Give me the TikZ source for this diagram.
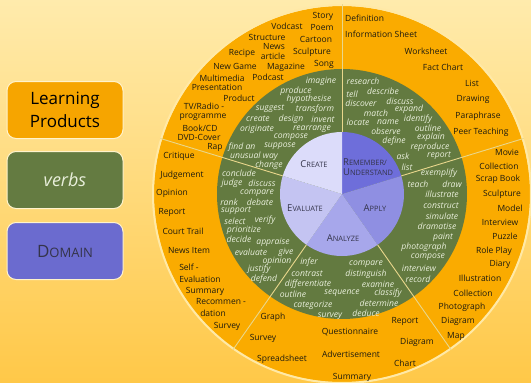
\documentclass[tikz,border=0pt]{standalone}
\usepackage{fontspec}
\setmainfont{Open Sans}

\definecolor{bgtop}{HTML}{FFEBAC}
\definecolor{bgbot}{HTML}{FFC848}
\definecolor{ringorange}{HTML}{FAAB00}
\definecolor{ringgreen}{HTML}{637A40}
\definecolor{halo}{HTML}{FFE9A6}
\definecolor{divline}{HTML}{E9D78C}
\definecolor{prodtext}{HTML}{1C1A10}
\definecolor{verbtext}{HTML}{E8EEDA}
\definecolor{domaintext}{HTML}{34344A}
\definecolor{cremember}{HTML}{6E6EDA}
\definecolor{capply}{HTML}{8F8FE2}
\definecolor{canalyze}{HTML}{A7A7EB}
\definecolor{cevaluate}{HTML}{C4C4F2}
\definecolor{ccreate}{HTML}{DCDCFA}
\definecolor{boxorange}{HTML}{F6A500}
\definecolor{boxgreen}{HTML}{647B41}
\definecolor{boxpurple}{HTML}{6B6BCF}
\definecolor{boxedge}{HTML}{FFF3CC}

\newcommand\smallcap[2]{{\fontsize{9.5}{11}\selectfont #1}{\fontsize{7.4}{11}\selectfont #2}}

\begin{document}
\begin{tikzpicture}[x=1pt, y=-1pt,
    prod/.style={text=prodtext, font=\fontsize{8.5}{10}\selectfont, inner sep=0pt},
    verb/.style={text=verbtext, font=\fontsize{8.6}{10}\selectfont\itshape, inner sep=0pt},
    domainlabel/.style={text=domaintext, inner sep=0pt, align=left},
    legendbox/.style={draw=boxedge, line width=1pt, rounded corners=9pt, minimum width=116pt, minimum height=57pt, align=center},
    divider/.style={draw=divline, line width=0.9pt}]

    % background and frame
    \fill[top color=bgtop, bottom color=bgbot] (0,0) rectangle (531,383);
    \useasboundingbox (0,0) rectangle (531,383);
    \clip (0,0) rectangle (531,383);

    % legend
    \node[legendbox, fill=boxorange, text=black, font=\fontsize{17}{23}\selectfont] (learning) at (65,110) {Learning\\Products};
    \node[legendbox, fill=boxgreen, text=verbtext, font=\fontsize{18}{20}\selectfont\itshape] (verbs) at (65,180) {verbs};
    \node[legendbox, fill=boxpurple, text=domaintext] (domainbox) at (65,251) {{\fontsize{17}{20}\selectfont D}{\fontsize{13}{20}\selectfont OMAIN}};

    % wheel
    \coordinate (c) at (342,194);
    \fill[ringorange] (c) circle[radius=188pt];
    \draw[halo, line width=2pt] (c) circle[radius=189pt];
    \fill[ringgreen] (c) circle[radius=125pt];
    \fill[cremember] (c) -- ++(90:62pt) arc[start angle=90, end angle=17, radius=62pt] -- cycle;
    \fill[capply] (c) -- ++(17:62pt) arc[start angle=17, end angle=-55, radius=62pt] -- cycle;
    \fill[canalyze] (c) -- ++(-55:62pt) arc[start angle=-55, end angle=-125, radius=62pt] -- cycle;
    \fill[cevaluate] (c) -- ++(-125:62pt) arc[start angle=-125, end angle=-197, radius=62pt] -- cycle;
    \fill[ccreate] (c) -- ++(163:62pt) arc[start angle=163, end angle=90, radius=62pt] -- cycle;

    \draw[divider] ([shift={(90:62pt)}]c) -- ([shift={(90:190pt)}]c);
    \draw[divider] ([shift={(17:62pt)}]c) -- ([shift={(17:190pt)}]c);
    \draw[divider] ([shift={(-55:62pt)}]c) -- ([shift={(-55:190pt)}]c);
    \draw[divider] ([shift={(-125:62pt)}]c) -- ([shift={(-125:190pt)}]c);
    \draw[divider] ([shift={(163:62pt)}]c) -- ([shift={(163:190pt)}]c);

    % domains
    \node[domainlabel] (dcreate) at (314,164) {\smallcap{C}{REATE}};
    \node[domainlabel, anchor=west] (dremember) at (343,167) {\smallcap{R}{EMEMBER/}\\[-1.5pt]\smallcap{U}{NDERSTAND}};
    \node[domainlabel] (devaluate) at (305,208) {\smallcap{E}{VALUATE}};
    \node[domainlabel] (dapply) at (375,208) {\smallcap{A}{PPLY}};
    \node[domainlabel] (danalyze) at (343,238) {\smallcap{A}{NALYZE}};

    % products: create
    \node[prod] (story) at (323,16) {Story};
    \node[prod] (vodcast) at (287,26) {Vodcast};
    \node[prod] (poem) at (322,28) {Poem};
    \node[prod] (structure) at (267,37) {Structure};
    \node[prod] (cartoon) at (316,39) {Cartoon};
    \node[prod] (news) at (274,47) {News};
    \node[prod] (article) at (273,56) {article};
    \node[prod] (recipe) at (242,53) {Recipe};
    \node[prod] (sculptA) at (312,52) {Sculpture};
    \node[prod] (newgame) at (235,66) {New Game};
    \node[prod] (magazine) at (286,67) {Magazine};
    \node[prod] (song) at (324,64) {Song};
    \node[prod] (multimedia) at (222,78) {Multimedia};
    \node[prod] (podcast) at (268,77) {Podcast};
    \node[prod] (presentation) at (217,87) {Presentation};
    \node[prod] (product) at (239,98) {Product};
    \node[prod] (tvradio) at (204,106) {TV/Radio -};
    \node[prod] (programme) at (203,117) {programme};
    \node[prod] (bookcd) at (200,128) {Book/CD};
    \node[prod] (dvdcover) at (199,137) {DVD-Cover};
    \node[prod] (rap) at (215,147) {Rap};

    % products: remember
    \node[prod, anchor=west] (definition) at (345,18) {Definition};
    \node[prod, anchor=west] (infosheet) at (345,34) {Information Sheet};
    \node[prod] (worksheet) at (426,51) {Worksheet};
    \node[prod] (factchart) at (443,67) {Fact Chart};
    \node[prod] (list) at (472,83) {List};
    \node[prod] (drawing) at (473,99) {Drawing};
    \node[prod] (paraphrase) at (478,116) {Paraphrase};
    \node[prod] (peerteach) at (481,132) {Peer Teaching};

    % products: apply
    \node[prod] (movie) at (507,152) {Movie};
    \node[prod] (collA) at (499,166) {Collection};
    \node[prod] (scrapbook) at (498,179) {Scrap Book};
    \node[prod] (sculptB) at (502,194) {Sculpture};
    \node[prod] (model) at (510,208) {Model};
    \node[prod] (interviewP) at (500,222) {Interview};
    \node[prod] (puzzle) at (505,236) {Puzzle};
    \node[prod] (roleplay) at (494,251) {Role Play};
    \node[prod] (diary) at (500,264) {Diary};
    \node[prod] (illustration) at (480,278) {Illustration};
    \node[prod] (collB) at (473,293) {Collection};
    \node[prod] (photographP) at (462,307) {Photograph};
    \node[prod] (diagramA) at (458,321) {Diagram};
    \node[prod] (map) at (456,336) {Map};

    % products: analyze
    \node[prod] (graph) at (273,317) {Graph};
    \node[prod] (surveyA) at (263,338) {Survey};
    \node[prod] (questionnaire) at (350,332) {Questionnaire};
    \node[prod] (reportA) at (405,321) {Report};
    \node[prod] (diagramB) at (417,342) {Diagram};
    \node[prod] (spreadsheet) at (282,359) {Spreadsheet};
    \node[prod] (advert) at (351,354) {Advertisement};
    \node[prod] (chart) at (405,363) {Chart};
    \node[prod] (summaryA) at (352,377) {Summary};

    % products: evaluate
    \node[prod] (critique) at (179,156) {Critique};
    \node[prod] (judgement) at (182,175) {Judgement};
    \node[prod] (opinion) at (172,193) {Opinion};
    \node[prod] (reportB) at (172,212) {Report};
    \node[prod] (courttrail) at (183,231) {Court Trail};
    \node[prod] (newsitem) at (189,251) {News Item};
    \node[prod] (self) at (189,267) {Self -};
    \node[prod] (evaluation) at (200,279) {Evaluation};
    \node[prod] (summaryB) at (205,291) {Summary};
    \node[prod] (recommen) at (221,302) {Recommen -};
    \node[prod] (dation) at (213,313) {dation};
    \node[prod] (surveyB) at (227,326) {Survey};

    % verbs: create
    \node[verb] (imagine) at (321,81) {imagine};
    \node[verb] (produce) at (296,91) {produce};
    \node[verb] (hypothesise) at (309,99) {hypothesise};
    \node[verb] (suggest) at (270,109) {suggest};
    \node[verb] (transform) at (315,109) {transform};
    \node[verb] (create) at (258,119) {create};
    \node[verb] (design) at (291,119) {design};
    \node[verb] (invent) at (323,119) {invent};
    \node[verb] (originate) at (257,129) {originate};
    \node[verb] (rearrange) at (312,129) {rearrange};
    \node[verb] (composeC) at (291,137) {compose};
    \node[verb] (findan) at (242,147) {find an};
    \node[verb] (suppose) at (280,146) {suppose};
    \node[verb] (unusual) at (254,156) {unusual way};
    \node[verb] (change) at (269,165) {change};

    % verbs: remember / understand
    \node[verb] (research) at (363,81) {research};
    \node[verb] (tell) at (352,94) {tell};
    \node[verb] (describe) at (383,91) {describe};
    \node[verb] (discover) at (361,103) {discover};
    \node[verb] (discussR) at (400,101) {discuss};
    \node[verb] (match) at (376,113) {match};
    \node[verb] (expand) at (409,109) {expand};
    \node[verb] (locate) at (358,122) {locate};
    \node[verb] (name) at (388,122) {name};
    \node[verb] (identify) at (418,119) {identify};
    \node[verb] (observe) at (386,131) {observe};
    \node[verb] (outlineR) at (428,128) {outline};
    \node[verb] (define) at (394,141) {define};
    \node[verb] (explain) at (431,137) {explain};
    \node[verb] (reproduce) at (430,147) {reproduce};
    \node[verb] (ask) at (403,156) {ask};
    \node[verb] (reportV) at (439,156) {report};
    \node[verb] (listV) at (407,167) {list};

    % verbs: apply
    \node[verb] (exemplify) at (439,173) {exemplify};
    \node[verb] (teach) at (418,184) {teach};
    \node[verb] (draw) at (452,184) {draw};
    \node[verb] (illustrate) at (442,194) {illustrate};
    \node[verb] (construct) at (441,206) {construct};
    \node[verb] (simulate) at (442,216) {simulate};
    \node[verb] (dramatise) at (437,226) {dramatise};
    \node[verb] (paint) at (443,237) {paint};
    \node[verb] (photographV) at (424,247) {photograph};
    \node[verb] (composeA) at (428,257) {compose};
    \node[verb] (interviewV) at (419,268) {interview};
    \node[verb] (record) at (418,279) {record};

    % verbs: analyze
    \node[verb] (infer) at (309,262) {infer};
    \node[verb] (compareA) at (366,264) {compare};
    \node[verb] (contrast) at (307,274) {contrast};
    \node[verb] (distinguish) at (366,274) {distinguish};
    \node[verb] (differentiate) at (308,284) {differentiate};
    \node[verb] (examine) at (378,284) {examine};
    \node[verb] (outlineA) at (293,294) {outline};
    \node[verb] (sequence) at (342,293) {sequence};
    \node[verb] (classify) at (388,293) {classify};
    \node[verb] (determine) at (379,303) {determine};
    \node[verb] (categorize) at (313,305) {categorize};
    \node[verb] (deduce) at (366,313) {deduce};
    \node[verb] (surveyV) at (330,316) {survey};

    % verbs: evaluate
    \node[verb] (conclude) at (239,173) {conclude};
    \node[verb] (judge) at (232,183) {judge};
    \node[verb] (discussE) at (262,183) {discuss};
    \node[verb] (compareE) at (257,193) {compare};
    \node[verb] (rank) at (229,202) {rank};
    \node[verb] (debate) at (260,202) {debate};
    \node[verb] (support) at (236,211) {support};
    \node[verb] (select) at (235,221) {select};
    \node[verb] (verify) at (265,220) {verify};
    \node[verb] (prioritize) at (244,230) {prioritize};
    \node[verb] (decide) at (239,239) {decide};
    \node[verb] (appraise) at (273,242) {appraise};
    \node[verb] (evaluateV) at (251,252) {evaluate};
    \node[verb] (give) at (286,252) {give};
    \node[verb] (opinionV) at (277,261) {opinion};
    \node[verb] (justify) at (259,269) {justify};
    \node[verb] (defend) at (264,279) {defend};
\end{tikzpicture}
\end{document}
